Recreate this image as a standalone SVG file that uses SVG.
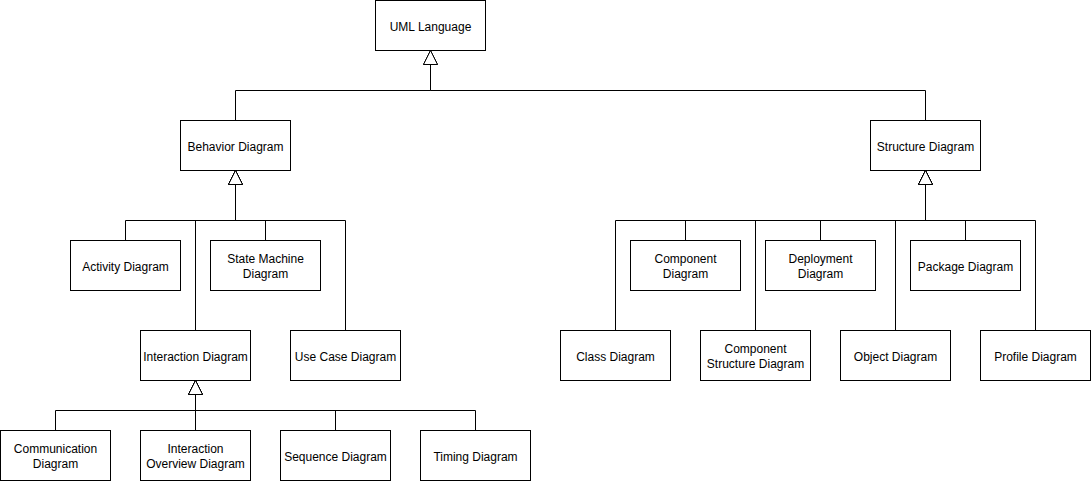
<svg xmlns="http://www.w3.org/2000/svg" width="1091" height="481" viewBox="0 0 1091 481">
<style>
.n rect{fill:#fff;stroke:#000;stroke-width:1}
.n text{font-family:"Liberation Sans",Arial,Helvetica,sans-serif;font-size:12px;fill:#000;text-anchor:middle}
.e path{fill:none;stroke:#000;stroke-width:1}
</style>
<defs>
<marker id="tri" markerUnits="userSpaceOnUse" markerWidth="16" markerHeight="16" refX="14" refY="7" orient="auto" viewBox="-1 -1 16 16">
<path d="M0,0 L14,7 L0,14 Z" fill="#fff" stroke="#000" stroke-width="1"/>
</marker>
</defs>
<rect width="1091" height="481" fill="#fff"/>
<g id="connectors" class="e">
<path d="M235.5,120.5 V90.5 H430.5 V50.5" marker-end="url(#tri)"/>
<path d="M925.5,120.5 V90.5 H430.5 V50.5" marker-end="url(#tri)"/>
<path d="M125.5,240.5 V220.5 H235.5 V170.5" marker-end="url(#tri)"/>
<path d="M265.5,240.5 V220.5 H235.5 V170.5" marker-end="url(#tri)"/>
<path d="M195.5,330.5 V220.5 H235.5 V170.5" marker-end="url(#tri)"/>
<path d="M345.5,330.5 V220.5 H235.5 V170.5" marker-end="url(#tri)"/>
<path d="M55.5,430.5 V410.5 H195.5 V380.5" marker-end="url(#tri)"/>
<path d="M195.5,430.5 V380.5" marker-end="url(#tri)"/>
<path d="M335.5,430.5 V410.5 H195.5 V380.5" marker-end="url(#tri)"/>
<path d="M475.5,430.5 V410.5 H195.5 V380.5" marker-end="url(#tri)"/>
<path d="M615.5,330.5 V220.5 H925.5 V170.5" marker-end="url(#tri)"/>
<path d="M685.5,240.5 V220.5 H925.5 V170.5" marker-end="url(#tri)"/>
<path d="M755.5,330.5 V220.5 H925.5 V170.5" marker-end="url(#tri)"/>
<path d="M820.5,240.5 V220.5 H925.5 V170.5" marker-end="url(#tri)"/>
<path d="M895.5,330.5 V220.5 H925.5 V170.5" marker-end="url(#tri)"/>
<path d="M965.5,240.5 V220.5 H925.5 V170.5" marker-end="url(#tri)"/>
<path d="M1035.5,330.5 V220.5 H925.5 V170.5" marker-end="url(#tri)"/>
</g>
<g id="uml" class="n"><rect x="375.5" y="0.5" width="110" height="50"/><text x="430.5" y="30.5">UML Language</text></g>
<g id="behavior" class="n"><rect x="180.5" y="120.5" width="110" height="50"/><text x="235.5" y="150.5">Behavior Diagram</text></g>
<g id="structure" class="n"><rect x="870.5" y="120.5" width="110" height="50"/><text x="925.5" y="150.5">Structure Diagram</text></g>
<g id="activity" class="n"><rect x="70.5" y="240.5" width="110" height="50"/><text x="125.5" y="270.5">Activity Diagram</text></g>
<g id="statemachine" class="n"><rect x="210.5" y="240.5" width="110" height="50"/><text x="265.5" y="262.5">State Machine</text><text x="265.5" y="277.5">Diagram</text></g>
<g id="interaction" class="n"><rect x="140.5" y="330.5" width="110" height="50"/><text x="195.5" y="360.5">Interaction Diagram</text></g>
<g id="usecase" class="n"><rect x="290.5" y="330.5" width="110" height="50"/><text x="345.5" y="360.5">Use Case Diagram</text></g>
<g id="communication" class="n"><rect x="0.5" y="430.5" width="110" height="50"/><text x="55.5" y="452.5">Communication</text><text x="55.5" y="467.5">Diagram</text></g>
<g id="interactionoverview" class="n"><rect x="140.5" y="430.5" width="110" height="50"/><text x="195.5" y="452.5">Interaction</text><text x="195.5" y="467.5">Overview Diagram</text></g>
<g id="sequence" class="n"><rect x="280.5" y="430.5" width="110" height="50"/><text x="335.5" y="460.5">Sequence Diagram</text></g>
<g id="timing" class="n"><rect x="420.5" y="430.5" width="110" height="50"/><text x="475.5" y="460.5">Timing Diagram</text></g>
<g id="class" class="n"><rect x="560.5" y="330.5" width="110" height="50"/><text x="615.5" y="360.5">Class Diagram</text></g>
<g id="component" class="n"><rect x="630.5" y="240.5" width="110" height="50"/><text x="685.5" y="262.5">Component</text><text x="685.5" y="277.5">Diagram</text></g>
<g id="componentstructure" class="n"><rect x="700.5" y="330.5" width="110" height="50"/><text x="755.5" y="352.5">Component</text><text x="755.5" y="367.5">Structure Diagram</text></g>
<g id="deployment" class="n"><rect x="765.5" y="240.5" width="110" height="50"/><text x="820.5" y="262.5">Deployment</text><text x="820.5" y="277.5">Diagram</text></g>
<g id="object" class="n"><rect x="840.5" y="330.5" width="110" height="50"/><text x="895.5" y="360.5">Object Diagram</text></g>
<g id="package" class="n"><rect x="910.5" y="240.5" width="110" height="50"/><text x="965.5" y="270.5">Package Diagram</text></g>
<g id="profile" class="n"><rect x="980.5" y="330.5" width="110" height="50"/><text x="1035.5" y="360.5">Profile Diagram</text></g>
</svg>
